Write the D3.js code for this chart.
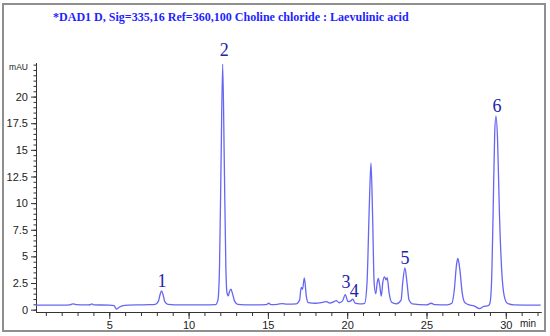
<!DOCTYPE html>
<html><head><meta charset="utf-8">
<script src="https://cdn.jsdelivr.net/npm/d3@7"></script>
<style>html,body{margin:0;padding:0;background:#fff;}svg{display:block;}</style>
</head><body>
<svg id="chart" width="550" height="336"></svg>
<script>
// Retention time (min) of sampled trace points
const times = [0.38,1.0,2.0,2.5,2.7,2.9,3.5,3.8,3.9,4.0,5.0,5.3,5.45,5.6,5.8,6.2,7.0,7.5,7.9,8.1,8.2,8.3,8.4,8.5,8.7,9.5,11.0,11.7,11.85,11.95,12.05,12.15,12.25,12.35,12.42,12.5,12.58,12.67,12.77,12.9,13.1,14.0,14.9,15.05,15.2,15.6,15.9,16.2,16.8,17.0,17.1,17.18,17.3,17.42,17.55,18.0,18.5,18.7,18.9,19.2,19.3,19.5,19.7,19.88,20.05,20.2,20.35,20.5,20.8,21.1,21.25,21.4,21.5,21.6,21.7,21.8,21.9,21.96,22.05,22.15,22.25,22.35,22.45,22.52,22.65,22.8,23.1,23.4,23.5,23.64,23.78,23.9,24.1,25.0,25.3,25.5,26.3,26.6,26.75,26.9,26.98,27.1,27.25,27.4,27.6,28.0,28.35,28.6,28.9,29.0,29.1,29.2,29.3,29.38,29.48,29.6,29.75,29.9,30.1,30.5,32.2];
// Detector signal (mAU) at those times
const signal = [0.42,0.42,0.43,0.45,0.55,0.47,0.44,0.46,0.55,0.45,0.42,0.38,0.05,0.2,0.35,0.42,0.45,0.47,0.5,0.8,1.4,1.77,1.35,0.75,0.5,0.45,0.45,0.47,0.9,4,14,23.05,14,4,1.6,1.3,1.7,1.92,1.5,0.8,0.5,0.45,0.48,0.6,0.48,0.5,0.57,0.52,0.55,0.9,2.1,1.9,2.99,1.3,0.65,0.6,0.7,0.75,0.62,0.78,0.85,0.65,0.8,1.42,0.75,0.8,0.98,0.62,0.55,0.6,2.5,10,13.78,9,2.5,1.5,2.6,2.93,2.3,1.27,2.6,3.08,2.8,3.0,1.5,0.7,0.55,0.9,2.5,3.93,2.4,0.9,0.55,0.45,0.6,0.48,0.45,0.6,1.8,4.3,4.8,3.8,1.6,0.7,0.5,0.35,0.1,0.3,0.38,0.6,2.5,9,16.5,18.17,16,9,3.5,1.3,0.6,0.45,0.42];
// Peak labels: text, label time, label baseline level (mAU)
const peakNames = ["1","2","3","4","5","6"];
const peakLabelTimes = [8.33,12.25,19.92,20.44,23.64,29.45];
const peakLabelLevels = [2.1,23.8,2.0,1.2,4.3,18.6];
const xMajorTicks = [5,10,15,20,25,30];
const yMajorTicks = [0,2.5,5,7.5,10,12.5,15,17.5,20];
const yTickLabels = ["0","2.5","5","7.5","10","12.5","15","17.5","20"];
const titleText = "*DAD1 D, Sig=335,16 Ref=360,100  Choline chloride : Laevulinic acid";

const svg = d3.select("#chart");
const x = d3.scaleLinear().domain([0.38, 32.22]).range([36, 541]);
const y = d3.scaleLinear().domain([-0.22, 23.2]).range([312, 62.5]);

// frame
svg.append("rect").attr("x",3).attr("y",4).attr("width",542).attr("height",327)
  .attr("fill","none").attr("stroke","#8f8f8f").attr("stroke-width",2);

// title
const title = svg.append("text").attr("x",53).attr("y",20.5)
  .attr("font-family","'Liberation Serif','Times New Roman',serif").attr("font-weight","bold")
  .attr("font-size",12.5).attr("fill","#1f1fff").text(titleText);
const tw = title.node().getComputedTextLength();
title.attr("font-size", 12.5*356/tw);

const axisColor = "#333";
// x axis
const xMinor = d3.range(1,33);
const gx = svg.append("g").attr("transform","translate(0,312)");
gx.call(d3.axisBottom(x).tickValues(xMinor).tickSize(4).tickFormat("").tickSizeOuter(0));
gx.append("g").call(d3.axisBottom(x).tickValues(xMajorTicks).tickSize(7).tickSizeOuter(0).tickPadding(2).tickFormat(d3.format("d")));
gx.selectAll("path").attr("stroke",axisColor);
gx.selectAll("line").attr("stroke",axisColor);
gx.selectAll("text").attr("font-family","'Liberation Sans',Arial,sans-serif").attr("font-size",11).attr("fill","#222");
svg.append("text").attr("x",520).attr("y",327).attr("font-family","'Liberation Sans',Arial,sans-serif")
  .attr("font-size",10).attr("fill","#222").text("min");

// y axis
const yMinor = d3.range(0, 23.01, 0.5);
const gy = svg.append("g").attr("transform","translate(36,0)");
gy.call(d3.axisLeft(y).tickValues(yMinor).tickSize(2.5).tickFormat("").tickSizeOuter(0));
gy.append("g").call(d3.axisLeft(y).tickValues(yMajorTicks).tickSize(5).tickSizeOuter(0).tickPadding(3)
   .tickFormat((d,i)=>yTickLabels[i]));
gy.selectAll("path").attr("stroke",axisColor);
gy.selectAll("line").attr("stroke",axisColor);
gy.selectAll("text").attr("font-family","'Liberation Sans',Arial,sans-serif").attr("font-size",11).attr("fill","#222");
svg.append("text").attr("x",28).attr("y",70).attr("text-anchor","end")
  .attr("font-family","'Liberation Sans',Arial,sans-serif").attr("font-size",8.5).attr("fill","#222").text("mAU");

// trace
const pts = times.map((t,i)=>[t, signal[i]]);
const line = d3.line().x(d=>x(d[0])).y(d=>y(d[1])).curve(d3.curveMonotoneX);
svg.append("path").datum(pts).attr("d",line).attr("fill","none")
  .attr("stroke","#6666f2").attr("stroke-width",1.3);

// peak labels
svg.selectAll("text.peak").data(peakNames).enter().append("text").attr("class","peak")
  .attr("x",(d,i)=>x(peakLabelTimes[i])).attr("y",(d,i)=>y(peakLabelLevels[i]))
  .attr("text-anchor","middle").attr("font-family","'Liberation Serif','Times New Roman',serif")
  .attr("font-size",18).attr("fill","#2323a8").text(d=>d);
</script>
</body></html>
